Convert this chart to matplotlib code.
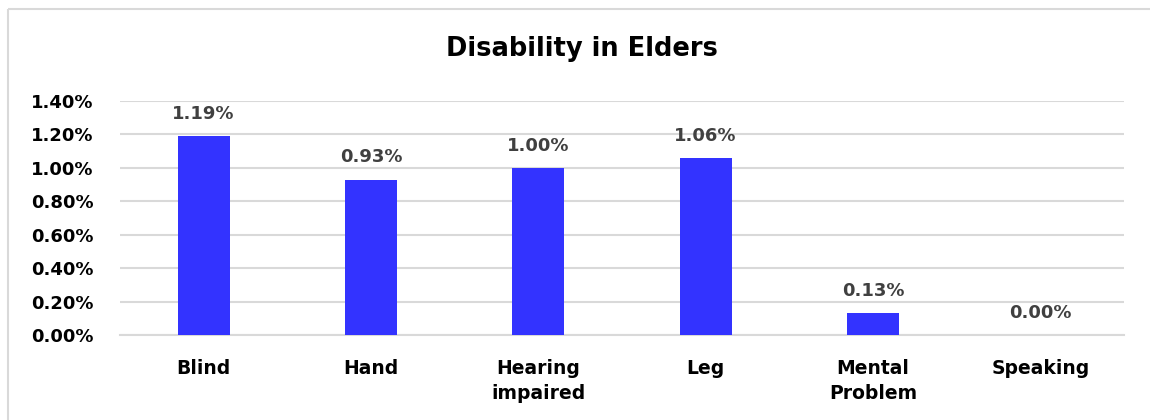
import matplotlib.pyplot as plt
from matplotlib.lines import Line2D
from matplotlib.ticker import PercentFormatter

categories = ["Blind", "Hand", "Hearing\nimpaired", "Leg", "Mental\nProblem", "Speaking"]
values = [1.19, 0.93, 1.00, 1.06, 0.13, 0.00]
yticks = [0.0, 0.2, 0.4, 0.6, 0.8, 1.0, 1.2, 1.4]

plt.rcParams["font.family"] = ["DejaVu Sans"]
plt.rcParams["font.weight"] = "bold"

fig = plt.figure(figsize=(11.5, 4.2), dpi=100)
# chart border (top and left edges only, the rest is cut off)
bx, by = 8 / 1150, 1 - 9 / 420
fig.add_artist(Line2D([bx, 1.0], [by, by], transform=fig.transFigure,
                      color="#d9d9d9", linewidth=1.5, solid_capstyle="butt"))
fig.add_artist(Line2D([bx, bx], [0.0, by], transform=fig.transFigure,
                      color="#d9d9d9", linewidth=1.5, solid_capstyle="butt"))

ax = fig.add_axes([120 / 1150, 1 - 335 / 420, 1004 / 1150, 234 / 420])
x = range(len(categories))
bars = ax.bar(x, values, width=0.31, color="#3333ff", zorder=3)

for b, v in zip(bars, values):
    ax.annotate("{:.2f}%".format(v), (b.get_x() + b.get_width() / 2, v),
                xytext=(0, 9.5), textcoords="offset points", ha="center",
                va="bottom", fontsize=13, fontweight="bold", color="#404040")

ax.set_xlim(-0.5, len(categories) - 0.5)
ax.set_ylim(0, 1.4)
ax.set_yticks(yticks)
ax.yaxis.set_major_formatter(PercentFormatter(decimals=2))
ax.set_xticks(list(x))
ax.set_xticklabels(categories, fontsize=13.5, fontweight="bold", linespacing=1.45)
ax.tick_params(axis="y", labelsize=13, length=0, pad=19)
ax.tick_params(axis="x", length=0, pad=17)

ax.grid(axis="y", color="#d9d9d9", linewidth=1.5, zorder=0)
for s in ["top", "right", "left"]:
    ax.spines[s].set_visible(False)
ax.spines["bottom"].set_color("#d9d9d9")
ax.spines["bottom"].set_linewidth(1.5)

fig.text(582 / 1150, 1 - 49 / 420, "Disability in Elders", ha="center",
         va="center", fontsize=18.5, fontweight="bold")

plt.savefig("out.png", dpi=100)
